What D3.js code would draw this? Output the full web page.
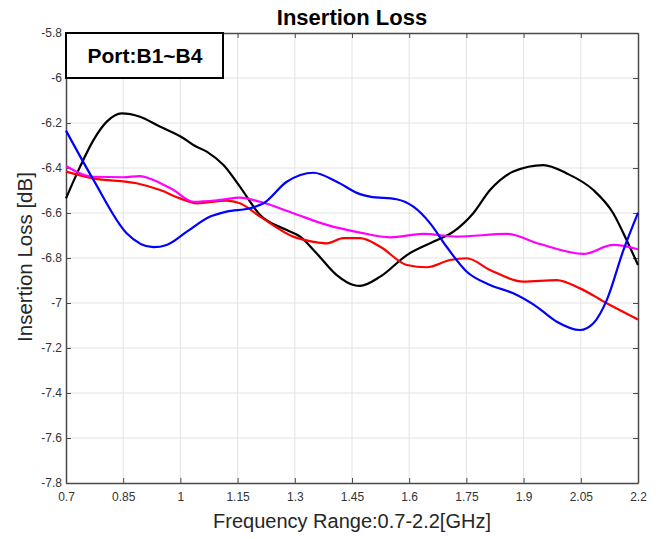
<!DOCTYPE html>
<html>
<head>
<meta charset="utf-8">
<script src="https://cdn.jsdelivr.net/npm/d3@7"></script>
<style>
  body { margin: 0; background: #fff; }
  text { font-family: "Liberation Sans", Arial, sans-serif; }
</style>
</head>
<body>
<div id="chart"></div>
<script>
// tick values
var xTicks = [0.7, 0.85, 1, 1.15, 1.3, 1.45, 1.6, 1.75, 1.9, 2.05, 2.2];
var yTicks = [-5.8, -6, -6.2, -6.4, -6.6, -6.8, -7, -7.2, -7.4, -7.6, -7.8];

// series: [GHz, dB]
var blackLine = [[0.7,-6.535],[0.737,-6.394],[0.772,-6.276],[0.807,-6.194],[0.846,-6.157],[0.894,-6.172],
  [0.946,-6.216],[1.008,-6.268],[1.034,-6.298],[1.069,-6.327],[1.113,-6.387],[1.156,-6.483],[1.209,-6.609],
  [1.279,-6.676],[1.314,-6.705],[1.357,-6.779],[1.41,-6.876],[1.454,-6.92],[1.471,-6.924],[1.524,-6.883],
  [1.594,-6.787],[1.663,-6.728],[1.716,-6.683],[1.768,-6.601],[1.812,-6.498],[1.873,-6.416],[1.952,-6.387],
  [2.013,-6.424],[2.083,-6.498],[2.135,-6.601],[2.17,-6.72],[2.2,-6.831]];
var redLine = [[0.7,-6.416],[0.772,-6.446],[0.885,-6.468],[0.947,-6.498],[0.999,-6.535],[1.043,-6.557],
  [1.121,-6.545],[1.156,-6.557],[1.209,-6.616],[1.296,-6.705],[1.349,-6.728],[1.384,-6.735],[1.427,-6.712],
  [1.471,-6.712],[1.524,-6.75],[1.594,-6.831],[1.646,-6.841],[1.707,-6.809],[1.751,-6.801],[1.812,-6.853],
  [1.899,-6.905],[1.987,-6.898],[2.048,-6.935],[2.118,-7.001],[2.2,-7.073]];
var magentaLine = [[0.7,-6.391],[0.772,-6.439],[0.85,-6.441],[0.894,-6.436],[0.929,-6.453],[0.982,-6.498],
  [1.034,-6.55],[1.104,-6.542],[1.156,-6.532],[1.209,-6.55],[1.296,-6.601],[1.384,-6.653],[1.471,-6.687],
  [1.55,-6.708],[1.637,-6.693],[1.725,-6.705],[1.856,-6.693],[1.943,-6.738],[2.057,-6.782],[2.135,-6.742],
  [2.2,-6.761]];
var blueLine = [[0.7,-6.234],[0.772,-6.453],[0.859,-6.69],[0.929,-6.752],[0.964,-6.742],[1.017,-6.683],
  [1.078,-6.616],[1.121,-6.594],[1.183,-6.579],[1.218,-6.557],[1.279,-6.461],[1.349,-6.421],[1.41,-6.461],
  [1.471,-6.516],[1.497,-6.527],[1.567,-6.539],[1.611,-6.572],[1.655,-6.646],[1.698,-6.75],[1.751,-6.861],
  [1.812,-6.92],[1.873,-6.957],[1.934,-7.016],[1.987,-7.083],[2.048,-7.12],[2.083,-7.09],[2.118,-6.987],
  [2.162,-6.764],[2.2,-6.599]];

var series = [
  {name: "black", color: "#000000", values: blackLine},
  {name: "red", color: "#ff0000", values: redLine},
  {name: "magenta", color: "#ff00ff", values: magentaLine},
  {name: "blue", color: "#0000ff", values: blueLine}
];

var svgwidth = 661,
    svgheight = 539,
    margin = {top: 33, right: 23, bottom: 56, left: 66},
    width = svgwidth - margin.left - margin.right,
    height = svgheight - margin.top - margin.bottom;

var svg = d3.select("#chart").append("svg")
    .attr("width", svgwidth)
    .attr("height", svgheight);

var g = svg.append("g").attr("transform", "translate(" + margin.left + "," + margin.top + ")");

var x = d3.scaleLinear().domain([0.7, 2.2]).range([0, width]),
    y = d3.scaleLinear().domain([-7.8, -5.8]).range([height, 0]);

// grid
g.append("g").selectAll("line").data(xTicks.slice(1, -1)).enter().append("line")
    .attr("x1", function(d) { return x(d); }).attr("x2", function(d) { return x(d); })
    .attr("y1", 0).attr("y2", height)
    .style("stroke", "#e3e3e3").style("stroke-width", 1);
g.append("g").selectAll("line").data(yTicks.slice(1, -1)).enter().append("line")
    .attr("y1", function(d) { return y(d); }).attr("y2", function(d) { return y(d); })
    .attr("x1", 0).attr("x2", width)
    .style("stroke", "#e3e3e3").style("stroke-width", 1);

// axes, ticks pointing inward
var fmt = function(d) { return String(+d.toFixed(2)); };
var xAxis = g.append("g")
    .attr("transform", "translate(0," + height + ")")
    .call(d3.axisBottom(x).tickValues(xTicks).tickFormat(fmt).tickSizeInner(-5).tickSizeOuter(0).tickPadding(9));
var xTop = g.append("g")
    .call(d3.axisTop(x).tickValues(xTicks).tickFormat("").tickSizeInner(-5).tickSizeOuter(0));
var yAxis = g.append("g")
    .call(d3.axisLeft(y).tickValues(yTicks).tickFormat(fmt).tickSizeInner(-5).tickSizeOuter(0).tickPadding(4));
var yRight = g.append("g")
    .attr("transform", "translate(" + width + ",0)")
    .call(d3.axisRight(y).tickValues(yTicks).tickFormat("").tickSizeInner(-5).tickSizeOuter(0));

[xAxis, xTop, yAxis, yRight].forEach(function(a) {
  a.select(".domain").style("stroke", "#4a4a4a").style("stroke-width", 1.5);
  a.selectAll(".tick line").style("stroke", "#4a4a4a");
  a.selectAll("text").style("font-size", "12px").style("fill", "#333");
});

// lines
var line = d3.line()
    .curve(d3.curveMonotoneX)
    .x(function(d) { return x(d[0]); })
    .y(function(d) { return y(d[1]); });

g.selectAll(".series").data(series).enter().append("path")
    .attr("class", "series")
    .attr("d", function(d) { return line(d.values); })
    .style("fill", "none")
    .style("stroke", function(d) { return d.color; })
    .style("stroke-width", 2.2)
    .style("stroke-linejoin", "round");

// port box
g.append("rect")
    .attr("x", 0).attr("y", 0)
    .attr("width", x(0.7) + 157).attr("height", y(-6))
    .style("fill", "#fff").style("stroke", "#000").style("stroke-width", 2);
g.append("text")
    .attr("x", 79).attr("y", 30)
    .attr("text-anchor", "middle")
    .style("font-size", "21px").style("font-weight", "bold")
    .text("Port:B1~B4");

// titles
svg.append("text")
    .attr("x", margin.left + width / 2).attr("y", 25)
    .attr("text-anchor", "middle")
    .style("font-size", "22px").style("font-weight", "bold")
    .text("Insertion Loss");

svg.append("text")
    .attr("x", margin.left + width / 2).attr("y", 528)
    .attr("text-anchor", "middle")
    .style("font-size", "20px").style("fill", "#262626")
    .text("Frequency Range:0.7-2.2[GHz]");

svg.append("text")
    .attr("transform", "rotate(-90)")
    .attr("x", -257).attr("y", 32)
    .attr("text-anchor", "middle")
    .style("font-size", "20.5px").style("fill", "#262626")
    .text("Insertion Loss [dB]");
</script>
</body>
</html>
